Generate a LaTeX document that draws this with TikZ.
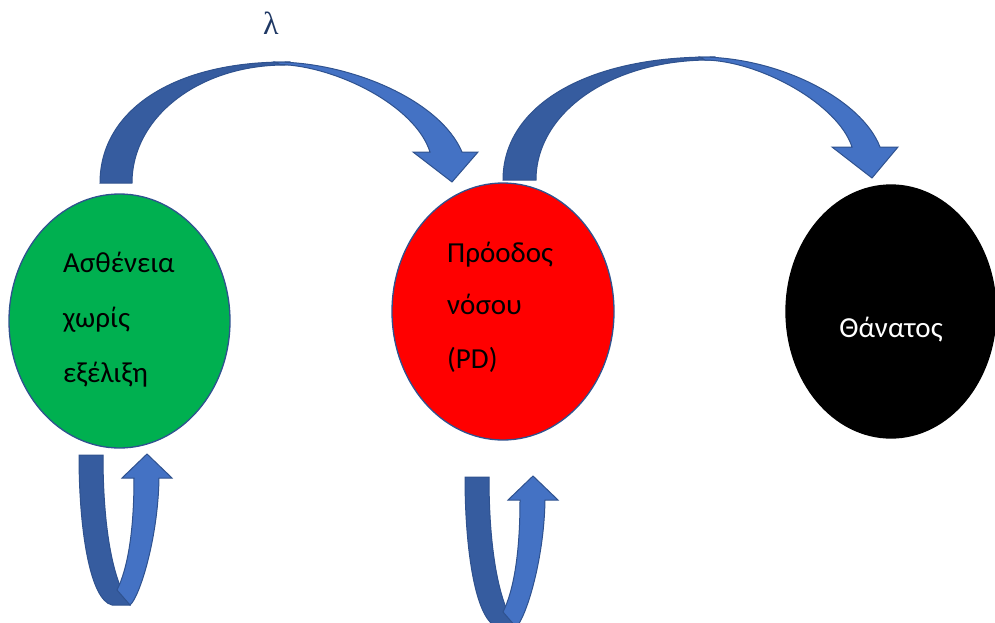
\documentclass[tikz,border=0pt]{standalone}
\usepackage{fontspec}
\setmainfont{Carlito}
\newfontfamily\lambdafont{Liberation Serif}
\usetikzlibrary{shapes.geometric}
\definecolor{bandlight}{HTML}{4472C4}
\definecolor{banddark}{HTML}{365C9F}
\definecolor{bandedge}{HTML}{2F528F}
\definecolor{stategreen}{HTML}{00B050}
\definecolor{labelnavy}{HTML}{1F3864}

\begin{document}
\begin{tikzpicture}[x=1pt,y=-1pt,
  state/.style={ellipse, draw=bandedge, line width=1.3pt, inner sep=0pt},
  band/.style={draw=bandedge, line width=1pt, line join=miter},
  statetext/.style={anchor=base west, inner sep=0pt, font=\fontsize{29}{34}\selectfont},
  selfloop/.pic={
    % back strip going down
    \path[band, fill=banddark] (0,0) -- (24,0) .. controls (24,70) and (33,125) .. (51,150)
      -- (33,150) .. controls (11,145) and (0,75) .. (0,0) -- cycle;
    % front strip rising to the head
    \path[band, fill=bandlight] (51,150) .. controls (60,143) and (79,85) .. (80,23)
      -- (93,23) -- (68,-1) -- (43,23) -- (55,23)
      .. controls (55,75) and (49,113) .. (38,135) -- cycle;
  },
]
\useasboundingbox (0,0) rectangle (995,623);

% states
\node[state, fill=stategreen, minimum width=221pt, minimum height=254pt] (stable) at (119.5,321) {};
\node[state, fill=red, minimum width=222pt, minimum height=257pt] (progress) at (503,311.5) {};
\node[state, draw=black, fill=black, minimum width=210pt, minimum height=253pt] (death) at (891,311.5) {};

\node[statetext] (s1) at (63,272) {Ασθένεια};
\node[statetext] (s2) at (63,327) {χωρίς};
\node[statetext] (s3) at (63,382) {εξέλιξη};
\node[statetext] (p1) at (447,262) {Πρόοδος};
\node[statetext] (p2) at (447,314) {νόσου};
\node[statetext] (p3) at (447,368) {(PD)};
\node[statetext, anchor=base, text=white] (d1) at (891,337) {Θάνατος};

\node[anchor=base, inner sep=0pt, text=labelnavy, font=\lambdafont\fontsize{32}{38}\selectfont] (lambda) at (271,35) {λ};

% curved transition: stable -> progression
\path[band, fill=banddark] (100,183) .. controls (100,110) and (174,62) .. (285,62)
  -- (290,62) -- (290,64.5) -- (285,65) .. controls (199,65) and (132,117) .. (132,183) -- cycle;
\path[band, fill=bandlight] (275,62) .. controls (350,62) and (440,100) .. (462,152)
  -- (478,152) -- (452,182) -- (413,152) -- (430,152)
  .. controls (415,105) and (335,66) .. (280,64.5) -- cycle;

% curved transition: progression -> death
\path[band, fill=banddark] (503,180) .. controls (503,106) and (586,57) .. (710,57)
  -- (715,57) -- (715,60) -- (710,60) .. controls (610,60) and (536,113) .. (536,180) -- cycle;
\path[band, fill=bandlight] (700,57) .. controls (780,57) and (862,100) .. (880,147)
  -- (898,147) -- (872,178) -- (832,147) -- (852,147)
  .. controls (838,104) and (760,61) .. (705,60) -- cycle;

% staying in the same state
\pic at (79,455) {selfloop};
\pic at (465,477) {selfloop};
\end{tikzpicture}
\end{document}
